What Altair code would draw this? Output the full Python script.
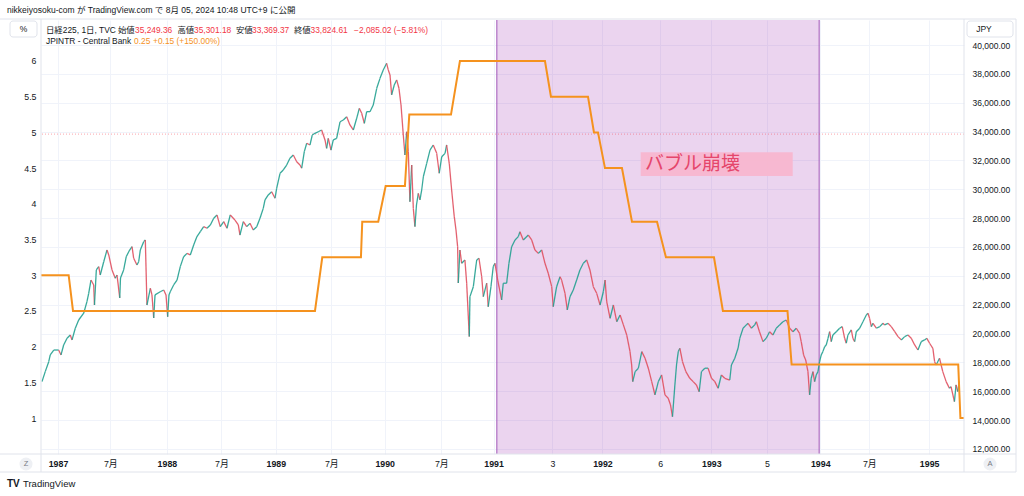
import altair as alt
import pandas as pd

# ---------------- data ----------------
# Nikkei 225 path (fractional year, JPY)
nk_t = [1986.853, 1986.883, 1986.915, 1986.929, 1986.961, 1987.006, 1987.028, 1987.052, 1987.083, 1987.113,
        1987.129, 1987.159, 1987.190, 1987.236, 1987.266, 1987.282, 1987.303, 1987.328, 1987.335, 1987.352,
        1987.374, 1987.388, 1987.420, 1987.450, 1987.466, 1987.496, 1987.526, 1987.542, 1987.567, 1987.574,
        1987.603, 1987.627, 1987.658, 1987.680, 1987.695, 1987.725, 1987.741, 1987.756, 1987.787, 1987.802,
        1987.817, 1987.848, 1987.863, 1987.879, 1987.891, 1987.939, 1987.971, 1987.992, 1988.007, 1988.019,
        1988.031, 1988.062, 1988.093, 1988.123, 1988.154, 1988.185, 1988.215, 1988.246, 1988.276, 1988.307,
        1988.338, 1988.368, 1988.399, 1988.430, 1988.460, 1988.490, 1988.522, 1988.552, 1988.582, 1988.625,
        1988.656, 1988.671, 1988.702, 1988.733, 1988.763, 1988.793, 1988.825, 1988.855, 1988.885, 1988.901,
        1988.931, 1988.962, 1988.993, 1989.008, 1989.039, 1989.069, 1989.100, 1989.130, 1989.161, 1989.192,
        1989.222, 1989.238, 1989.262, 1989.284, 1989.314, 1989.335, 1989.360, 1989.390, 1989.421, 1989.452,
        1989.467, 1989.482, 1989.507, 1989.528, 1989.559, 1989.590, 1989.620, 1989.651, 1989.681, 1989.712,
        1989.743, 1989.767, 1989.789, 1989.813, 1989.835, 1989.865, 1989.895, 1989.927, 1989.957, 1989.987,
        1990.018, 1990.033, 1990.049, 1990.064, 1990.088, 1990.110, 1990.131, 1990.150, 1990.171, 1990.186,
        1990.202, 1990.217, 1990.232, 1990.248, 1990.263, 1990.278, 1990.292, 1990.309, 1990.324, 1990.340,
        1990.355, 1990.386, 1990.416, 1990.446, 1990.478, 1990.501, 1990.524, 1990.554, 1990.569, 1990.593,
        1990.615, 1990.639, 1990.655, 1990.670, 1990.676, 1990.691, 1990.707, 1990.737, 1990.753, 1990.777,
        1990.783, 1990.814, 1990.845, 1990.866, 1990.891, 1990.906, 1990.937, 1990.951, 1990.976, 1990.997,
        1991.013, 1991.038, 1991.074, 1991.089, 1991.120, 1991.141, 1991.166, 1991.197, 1991.227, 1991.242,
        1991.273, 1991.319, 1991.350, 1991.380, 1991.411, 1991.442, 1991.472, 1991.502, 1991.534, 1991.548,
        1991.579, 1991.610, 1991.625, 1991.656, 1991.677, 1991.702, 1991.732, 1991.763, 1991.793, 1991.824,
        1991.855, 1991.885, 1991.916, 1991.947, 1991.978, 1992.008, 1992.024, 1992.039, 1992.070, 1992.100,
        1992.131, 1992.162, 1992.192, 1992.223, 1992.253, 1992.268, 1992.278, 1992.300, 1992.330, 1992.361,
        1992.391, 1992.421, 1992.452, 1992.482, 1992.513, 1992.543, 1992.574, 1992.604, 1992.625, 1992.643,
        1992.665, 1992.680, 1992.696, 1992.711, 1992.735, 1992.766, 1992.802, 1992.833, 1992.863, 1992.888,
        1992.909, 1992.940, 1992.970, 1993.001, 1993.032, 1993.062, 1993.092, 1993.123, 1993.169, 1993.184,
        1993.215, 1993.245, 1993.261, 1993.291, 1993.321, 1993.337, 1993.367, 1993.398, 1993.413, 1993.442,
        1993.474, 1993.504, 1993.535, 1993.565, 1993.596, 1993.627, 1993.657, 1993.688, 1993.719, 1993.749,
        1993.780, 1993.810, 1993.825, 1993.847, 1993.866, 1993.887, 1993.902, 1993.917, 1993.933, 1993.948,
        1993.963, 1993.979, 1993.994, 1994.009, 1994.024, 1994.040, 1994.055, 1994.071, 1994.086, 1994.101,
        1994.116, 1994.147, 1994.178, 1994.202, 1994.224, 1994.239, 1994.254, 1994.285, 1994.300, 1994.316,
        1994.331, 1994.362, 1994.392, 1994.423, 1994.438, 1994.453, 1994.469, 1994.484, 1994.515, 1994.546,
        1994.576, 1994.591, 1994.622, 1994.652, 1994.684, 1994.714, 1994.744, 1994.775, 1994.805, 1994.836,
        1994.867, 1994.897, 1994.927, 1994.958, 1994.979, 1995.004, 1995.034, 1995.050, 1995.064, 1995.095,
        1995.125, 1995.156, 1995.186, 1995.201, 1995.232, 1995.247, 1995.262, 1995.277]
nk_p = [16670, 17360, 18050, 18520, 18860, 18860, 18520, 19210, 19670, 19900,
        19560, 20370, 20940, 21410, 22210, 22790, 23710, 23370, 21980, 24410,
        24640, 24060, 24980, 25790, 25450, 24410, 23830, 24060, 22470, 23850,
        24410, 25330, 25790, 26020, 25220, 24750, 24980, 25790, 26370, 26490,
        21980, 23140, 22680, 21080, 22680, 22900, 23020, 22680, 21170, 22680,
        22900, 23370, 23710, 24640, 25330, 25560, 25450, 26140, 26720, 27060,
        27410, 27300, 27530, 27990, 28220, 27410, 27760, 27300, 28220, 27870,
        27530, 26830, 27760, 27410, 27640, 27180, 27410, 27990, 28680, 29260,
        29610, 29830, 29380, 30070, 31110, 31340, 31680, 32150, 32380, 31910,
        31680, 31460, 32610, 33190, 33070, 33760, 33880, 33990, 34110, 33420,
        32840, 33530, 32720, 33420, 33530, 34680, 34800, 35030, 34460, 34110,
        34920, 35610, 35270, 34570, 35380, 35380, 35840, 37000, 37690, 38270,
        38730, 38270, 37920, 36540, 37230, 37580, 37000, 35840, 33760, 32380,
        33990, 32610, 29140, 31680, 28680, 27410, 28910, 29720, 29260, 29950,
        30870, 31800, 32720, 33070, 32490, 31110, 32260, 32490, 33070, 31800,
        29950, 28100, 27180, 26020, 23510, 25790, 24870, 25100, 23490, 19790,
        22560, 23250, 25100, 25220, 23940, 22560, 23490, 21860, 23250, 24640,
        24870, 23710, 22330, 23490, 23490, 24870, 26020, 26490, 26720, 27060,
        26490, 26830, 26490, 25790, 25560, 25790, 24870, 24180, 23250, 21860,
        23250, 23940, 23710, 22790, 21640, 22560, 23020, 23710, 24410, 24870,
        25100, 24410, 23250, 22790, 21980, 22900, 23710, 22210, 21060, 21980,
        20820, 21290, 20600, 19900, 18750, 17820, 16670, 17360, 17600, 18750,
        18290, 17600, 16670, 15750, 16670, 17130, 15750, 15520, 15050, 14240,
        16440, 17820, 18750, 18980, 18050, 17360, 16900, 16670, 16440, 15970,
        17360, 17600, 17600, 16900, 16670, 16210, 17130, 16900, 16780, 17820,
        18290, 18980, 19670, 20370, 20600, 20710, 20370, 20600, 20820, 20130,
        19440, 19670, 20130, 19900, 20370, 20600, 20820, 20940, 20370, 20130,
        20370, 20020, 19440, 18520, 18170, 17360, 15750, 16900, 17360, 16670,
        17130, 17360, 18050, 18520, 18750, 19090, 19210, 19670, 20130, 19440,
        19900, 20130, 20370, 20480, 19670, 19330, 19900, 20250, 19670, 19440,
        20130, 20370, 20820, 21290, 21410, 21060, 20480, 20710, 20370, 20480,
        20710, 20600, 20710, 20480, 20130, 19790, 19560, 19790, 19900, 19670,
        19210, 18860, 19440, 19560, 19670, 19330, 18980, 18050, 17820, 18290,
        17360, 16670, 16210, 16320, 15280, 16440, 15970, 16670]

# JPINTR - central bank rate (%)
rate_t = [1986.844, 1987.098, 1987.138, 1989.360, 1989.427, 1989.782, 1989.794, 1989.941, 1990.009,
          1990.186, 1990.226, 1990.609, 1990.691, 1991.472, 1991.527, 1991.867, 1991.922, 1991.959,
          1992.023, 1992.179, 1992.271, 1992.501, 1992.583, 1993.024, 1993.106, 1993.699, 1993.737,
          1995.267, 1995.287, 1995.320]
rate_v = [3.0, 3.0, 2.5, 2.5, 3.25, 3.25, 3.75, 3.75, 4.25,
          4.25, 5.25, 5.25, 6.0, 6.0, 5.5, 5.5, 5.0, 5.0,
          4.5, 4.5, 3.75, 3.75, 3.25, 3.25, 2.5, 2.5, 1.75,
          1.75, 1.0, 1.0]

x_ticks = [1987, 1987.48, 1988, 1988.5, 1989, 1989.51, 1990, 1990.52, 1991, 1991.54,
           1992, 1992.53, 1993, 1993.51, 1994, 1994.45, 1995]
price_ticks = list(range(12000, 40001, 2000))
rate_ticks = [1, 1.5, 2, 2.5, 3, 3.5, 4, 4.5, 5, 5.5, 6]

bubble_span = [1991.03, 1993.99]
label_text = "バブル崩壊"
label_box_t = [1992.351, 1993.747]
label_box_p = [32560, 30920]
label_pos = [1992.39, 31750]
last_close = 33824.61

header = "nikkeiyosoku-com が TradingView.com で 8月 05, 2024 10:48 UTC+9 に公開"
legend1 = [("日経225, 1日, TVC", 46, "dark"), ("始値", 118, "dark"), ("35,249.36", 135, "red"),
           ("高値", 177.5, "dark"), ("35,301.18", 194, "red"), ("安値", 236, "dark"),
           ("33,369.37", 252, "red"), ("終値", 294, "dark"), ("33,824.61", 310.5, "red"),
           ("−2,085.02 (−5.81%)", 354, "red")]
legend2 = [("JPINTR - Central Bank", 46, "dark"), ("0.25", 134, "orange"), ("+0.15 (+150.00%)", 153, "orange")]

# ---------------- layout / style ----------------
FONT = "Liberation Sans, Noto Sans CJK JP, sans-serif"
L, T, R, B = 41, 20, 60, 42
W, H = 923, 434
XD = [1986.844, 1995.320]
PD = [11653, 41733]
RD = [0.496, 6.574]
DARK = "#131722"
RED = "#f23645"
UP = "#22a090"
ORANGE = "#f5921e"
LINE = "#e0e3eb"
GRID = "#f0f3fa"
COLORS = {"dark": DARK, "red": RED, "orange": ORANGE}
FS = 8.4

xs = alt.Scale(domain=XD, nice=False, zero=False)
ps = alt.Scale(domain=PD, nice=False, zero=False)
rs = alt.Scale(domain=RD, nice=False, zero=False)

x_axis = alt.Axis(
    values=x_ticks, title=None, ticks=False, domain=False, grid=True, gridColor=GRID,
    labelPadding=5, labelFontSize=8.8, labelColor=DARK, labelFont=FONT,
    labelFontWeight={"condition": {"test": "datum.value % 1 === 0", "value": "bold"}, "value": "normal"},
    labelExpr="datum.value % 1 === 0 ? format(datum.value, 'd') : (datum.value < 1991 || datum.value > 1994 ? '7月' : (datum.value < 1992 ? '3' : (datum.value < 1993 ? '6' : '5')))",
)
price_axis = alt.Axis(
    orient="right", values=price_ticks, format=",.2f", title=None, ticks=False, domain=False,
    grid=True, gridColor=GRID, labelPadding=8, labelFontSize=8.5, labelColor=DARK, labelFont=FONT,
)
rate_axis = alt.Axis(
    orient="left", values=rate_ticks, format=".1~f", title=None, ticks=False, domain=False,
    grid=False, labelPadding=5, labelFontSize=8.8, labelColor=DARK, labelFont=FONT,
)


def X(field):
    return alt.X(field, type="quantitative", scale=xs, axis=x_axis)


dummy = pd.DataFrame({"a": [0]})


def px_text(s, x, y, color=DARK, size=FS, weight="normal", align="left"):
    return alt.Chart(dummy).mark_text(
        text=s, align=align, baseline="middle", fontSize=size, fontWeight=weight, color=color, font=FONT
    ).encode(x=alt.value(x - L), y=alt.value(y - T))


def px_rule(x1, y1, x2, y2, color=LINE):
    return alt.Chart(dummy).mark_rule(color=color, strokeWidth=1).encode(
        x=alt.value(x1 - L), x2=alt.value(x2 - L), y=alt.value(y1 - T), y2=alt.value(y2 - T)
    )


# ---------------- layers ----------------
bubble_df = pd.DataFrame({"a": [bubble_span[0]], "b": [bubble_span[1]]})
bubble = alt.Chart(bubble_df).mark_rect(color="#9c27b0", opacity=0.2).encode(
    x=X("a"), x2="b", y=alt.value(0), y2=alt.value(H)
)
bubble_edges = alt.Chart(pd.DataFrame({"a": bubble_span})).mark_rule(color="#a056b8", strokeWidth=1).encode(x=X("a"))

close_line = alt.Chart(pd.DataFrame({"p": [last_close]})).mark_rule(
    color=RED, opacity=0.45, strokeDash=[1, 2], strokeWidth=1
).encode(y=alt.Y("p:Q", scale=ps, axis=None))

seg = pd.DataFrame({"t": nk_t[:-1], "p": nk_p[:-1], "t2": nk_t[1:], "p2": nk_p[1:]})
seg["dir"] = ["up" if b >= a else "down" for a, b in zip(seg["p"], seg["p2"])]
candles = alt.Chart(seg).mark_rule(strokeWidth=1.3, opacity=0.9).encode(
    x=X("t"), x2="t2",
    y=alt.Y("p:Q", scale=ps, axis=price_axis), y2="p2",
    color=alt.Color("dir:N", scale=alt.Scale(domain=["up", "down"], range=[UP, "#e0505f"]), legend=None),
)

rate_df = pd.DataFrame({"t": rate_t, "v": rate_v})
rate_line = alt.Chart(rate_df).mark_line(color=ORANGE, strokeWidth=2).encode(
    x=X("t"), y=alt.Y("v:Q", scale=rs, axis=rate_axis)
)

box_df = pd.DataFrame({"t": [label_box_t[0]], "t2": [label_box_t[1]], "p": [label_box_p[0]], "p2": [label_box_p[1]]})
label_box = alt.Chart(box_df).mark_rect(color="#f8b6cf", opacity=0.95).encode(
    x=X("t"), x2="t2", y=alt.Y("p:Q", scale=ps, axis=None), y2="p2"
)
label = alt.Chart(pd.DataFrame({"t": [label_pos[0]], "p": [label_pos[1]], "s": [label_text]})).mark_text(
    align="left", baseline="middle", fontSize=19, color="#e5466b", font=FONT
).encode(x=X("t"), y=alt.Y("p:Q", scale=ps, axis=None), text="s:N")

# frame, header, legend, buttons
frame = [
    px_rule(0, 19, 1016, 19), px_rule(0, 454, 1016, 454), px_rule(0, 472, 1016, 472),
    px_rule(41, 19, 41, 472), px_rule(964, 19, 964, 472), px_rule(1016, 19, 1016, 472),
]
boxes = [
    alt.Chart(dummy).mark_rect(fill="white", stroke=LINE, cornerRadius=3).encode(
        x=alt.value(10 - L), x2=alt.value(37 - L), y=alt.value(21 - T), y2=alt.value(37 - T)),
    alt.Chart(dummy).mark_rect(fill="white", stroke=LINE, cornerRadius=3).encode(
        x=alt.value(967 - L), x2=alt.value(1013 - L), y=alt.value(21 - T), y2=alt.value(37 - T)),
]
texts = [
    px_text(header, 7, 10, size=8.5),
    px_text("%", 23.5, 29, align="center", size=8.5),
    px_text("JPY", 984, 29, align="center", size=8.5),
]
for s, x, c in legend1:
    texts.append(px_text(s, x, 30, color=COLORS[c]))
for s, x, c in legend2:
    texts.append(px_text(s, x, 41, color=COLORS[c]))

buttons = [
    alt.Chart(dummy).mark_circle(size=170, color="#eef0f4", opacity=1).encode(x=alt.value(26 - L), y=alt.value(464 - T)),
    alt.Chart(dummy).mark_circle(size=170, color="#eef0f4", opacity=1).encode(x=alt.value(990 - L), y=alt.value(464 - T)),
    px_text("Z", 26, 464, color="#787b86", size=7.5, align="center"),
    px_text("A", 990, 464, color="#787b86", size=7.5, align="center"),
    px_text("TV", 7, 484, color="#131722", size=10, weight="bold"),
    px_text("TradingView", 23, 484, color="#131722", size=9.5),
]

chart = alt.layer(
    bubble, bubble_edges, close_line, candles, rate_line, label_box, label,
    *frame, *boxes, *texts, *buttons
).resolve_scale(y="independent").properties(
    width=W, height=H,
    autosize=alt.AutoSizeParams(type="none"),
    padding={"left": L, "top": T, "right": R, "bottom": B},
    background="white",
).configure_view(stroke=None)

chart.save("out.html", embed_options={"renderer": "svg", "actions": False})
